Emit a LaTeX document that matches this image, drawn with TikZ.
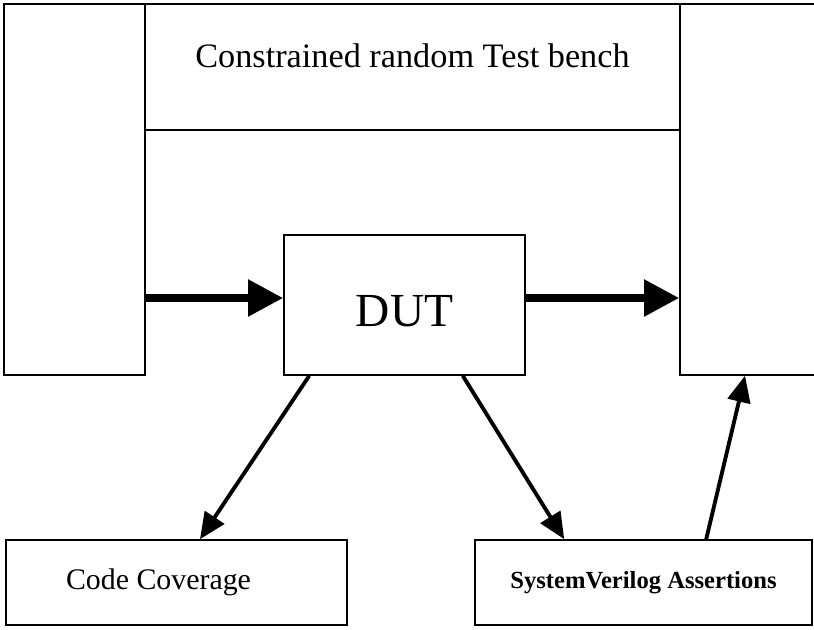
\documentclass[tikz,border=0pt]{standalone}
\usepackage{fontspec}
\setmainfont{Liberation Serif}
\usetikzlibrary{arrows.meta}

\begin{document}
\begin{tikzpicture}[x=0.02cm, y=-0.02cm,
		blk/.style={draw, line width=0.9pt, inner sep=0pt},
		fatarrow/.style={line width=4.5pt, -{Triangle[length=20pt, width=20pt]}},
		thinarrow/.style={line width=2.2pt, -{Triangle[length=15pt, width=13pt]}}]
		%%%%% START %%%%%
		
		\useasboundingbox (0, 0) rectangle (814, 629);
		
		\node[blk, minimum width=2.82cm, minimum height=7.42cm] (tbL) at (74.5, 189.5) {};
		\node[blk, minimum width=10.7cm, minimum height=2.52cm, text depth=0.45cm,
			font=\fontsize{19.5}{23}\selectfont] (tbTop) at (412.5, 67) {Constrained random Test bench};
		\node[blk, minimum width=2.8cm, minimum height=7.42cm] (tbR) at (750, 189.5) {};
		
		\node[blk, minimum width=4.82cm, minimum height=2.8cm, text height=0.87cm,
			font=\fontsize{27}{30}\selectfont] (dut) at (404.5, 305) {DUT};
		
		\node[blk, minimum width=6.82cm, minimum height=1.7cm, font=\fontsize{17}{20}\selectfont] (cov) at (176.5, 582.5) {Code Coverage\kern0.72cm};
		\node[blk, minimum width=6.74cm, minimum height=1.7cm, font=\bfseries\fontsize{14}{17}\selectfont] (sva) at (643.5, 582.5) {SystemVerilog Assertions};
		
		\coordinate (dutIn) at ([yshift=0.14cm]dut.west);
		\coordinate (dutOut) at ([yshift=0.14cm]dut.east);
		
		\draw[fatarrow] (tbL.east |- dutIn) -- (dutIn);
		\draw[fatarrow] (dutOut) -- (tbR.west |- dutOut);
		
		\draw[thinarrow] ([xshift=0.52cm]dut.south west) -- ([xshift=0.47cm]cov.north);
		\draw[thinarrow] ([xshift=-1.26cm]dut.south east) -- ([xshift=1.8cm]sva.north west);
		\draw[thinarrow] ([xshift=4.64cm]sva.north west) -- ([xshift=-0.1cm]tbR.south);
		
		%%%%% END %%%%%
\end{tikzpicture}
\end{document}
